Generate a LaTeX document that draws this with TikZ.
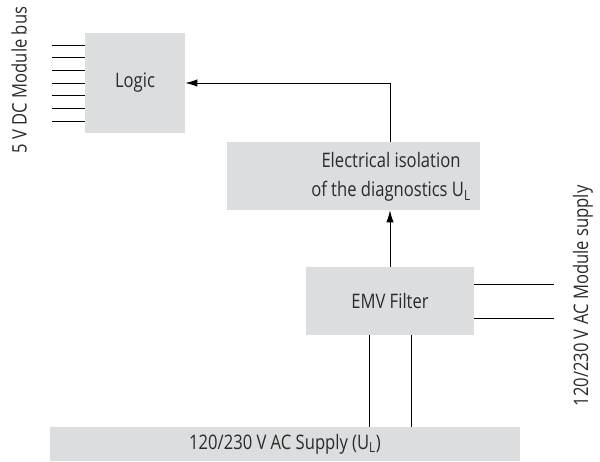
\documentclass[tikz,border=0pt]{standalone}
\usepackage{fontspec}
\setmainfont[FakeStretch=0.83]{Open Sans}
\usetikzlibrary{arrows.meta}
\definecolor{boxgray}{HTML}{DCDDDE}
\definecolor{txt}{HTML}{2A2A2A}
\begin{document}
\begin{tikzpicture}[x=0.75pt,y=-0.75pt,
  box/.style={draw=none,fill=boxgray,inner sep=0pt},
  lbl/.style={text=txt,font=\fontsize{15}{22}\selectfont,inner sep=0pt},
  wire/.style={draw=black,line width=0.75pt},
  arr/.style={wire,-{Latex[length=9pt,width=5.5pt]}}]
\useasboundingbox (0,0) rectangle (600,461);
% boxes
\node[box,minimum width=75pt,minimum height=75pt] (logic) at (135,83) {};
\node[lbl] (logict) at (135,83) {Logic};
\node[box,minimum width=189.75pt,minimum height=51pt] (iso) at (353.5,176) {};
\node[lbl,align=center] (isot) at (391,177) {Electrical isolation\\of the diagnostics U\textsubscript{L}};
\node[box,minimum width=126pt,minimum height=51pt] (emv) at (390,301) {};
\node[lbl] (emvt) at (390,301) {EMV Filter};
\node[box,minimum width=352.5pt,minimum height=25.5pt] (sup) at (285,444) {};
\node[lbl] (supt) at (285,444) {120/230 V AC Supply (U\textsubscript{L})};
% side labels
\node[lbl,rotate=90] (buslbl) at (19,80) {5 V DC Module bus};
\node[lbl,rotate=90] (modlbl) at (583,296) {120/230 V AC Module supply};
% connectors
\coordinate (ax) at (390,0);
\draw[arr] (iso.north -| ax) |- (logic.east);
\draw[arr] (emv.north) -- (emv.north |- iso.south);
\foreach \y [count=\i] in {45,57.7,70.3,83,95.7,108.3,121}{
  \coordinate (b\i) at (52,\y);
  \draw[wire] (b\i) -- (b\i -| logic.west);
}
\coordinate (r1) at (554,284);
\coordinate (r2) at (554,318);
\draw[wire] (r1 -| emv.east) -- (r1);
\draw[wire] (r2 -| emv.east) -- (r2);
\coordinate (d1) at (369,0);
\coordinate (d2) at (411,0);
\draw[wire] (emv.south -| d1) -- (sup.north -| d1);
\draw[wire] (emv.south -| d2) -- (sup.north -| d2);
\end{tikzpicture}
\end{document}
